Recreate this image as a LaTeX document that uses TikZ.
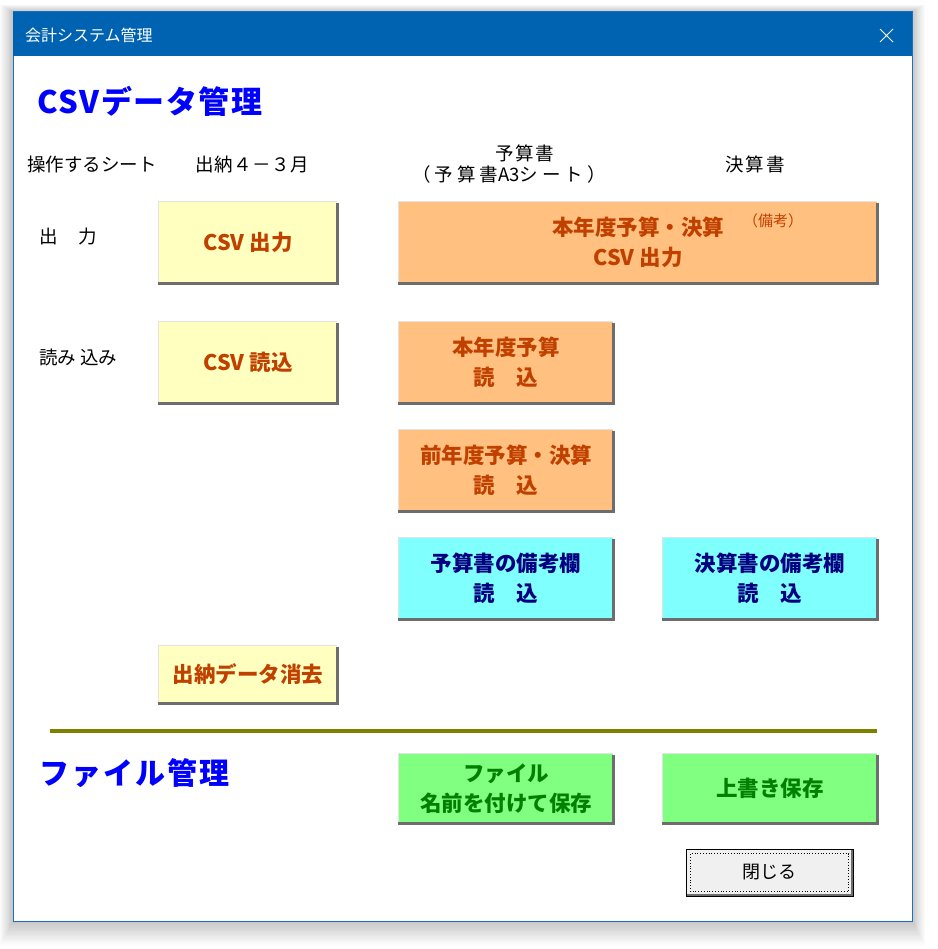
\documentclass[tikz,border=0pt]{standalone}
\usepackage{fontspec}
\setmainfont{Noto Sans CJK JP}
\newfontfamily\jpfont{Noto Sans CJK JP}
\definecolor{titleblue}{RGB}{0,99,177}
\definecolor{winborder}{RGB}{30,111,191}
\definecolor{headblue}{RGB}{0,0,255}
\definecolor{btnyellow}{RGB}{255,255,192}
\definecolor{btnorange}{RGB}{255,192,128}
\definecolor{btncyan}{RGB}{128,255,255}
\definecolor{btngreen}{RGB}{128,255,128}
\definecolor{txtorange}{RGB}{192,64,0}
\definecolor{txtnavy}{RGB}{0,0,128}
\definecolor{txtgreen}{RGB}{0,128,0}
\definecolor{olive}{RGB}{128,128,0}
\definecolor{bevdark}{RGB}{109,109,109}
\definecolor{bevlight}{RGB}{227,227,227}
\definecolor{closefill}{RGB}{240,240,240}
\newcommand\mybtn[8]{%
  \node[btnbase, fill=#6, text=#7, minimum width={#4-#2}, minimum height={#5-#3}] (#1) at ({(#2+#4)/2},{(#3+#5)/2}) {#8};
  \draw[bevellight] (#1.south west) |- (#1.north east);
  \draw[beveldark] ([xshift=-1pt]#1.south west) -| ([yshift=-1pt]#1.north east);
}
\newcommand\mygap{\hspace{4pt}}
\begin{document}
\begin{tikzpicture}[x=1pt,y=-1pt,
  btnbase/.style={draw=none, inner sep=0pt, align=center, font=\bfseries\fontsize{21.5}{29.5}\selectfont},
  bevellight/.style={draw=bevlight, line width=1.2pt},
  beveldark/.style={draw=bevdark, line width=2.6pt},
  lbl/.style={inner sep=0pt, font=\fontsize{18.5}{21}\selectfont, text=black, align=center},
  heading/.style={inner sep=0pt, font=\bfseries\fontsize{31}{34}\selectfont\addfontfeature{LetterSpace=5}, text=headblue}]
\useasboundingbox (0,0) rectangle (937,949);
\fill[white] (0,0) rectangle (937,949);
% window shadow
\foreach \i in {1,...,14}{
  \fill[black, opacity=0.014] ({13-0.9*\i},{12-0.5*\i}) rectangle ({912+0.9*\i},{921+1.7*\i});
}
% window
\draw[winborder, fill=white, line width=1pt] (13,12) rectangle (912,921);
\fill[titleblue] (13,12) rectangle (912,56);
\node[anchor=west, inner sep=0pt, text=white, font=\fontsize{16}{18}\selectfont] (title) at (25,35) {会計システム管理};
\draw[white, line width=1pt] (880,29) -- (893,42) (880,42) -- (893,29);

% headings
\node[heading, anchor=west] (csvh) at (37,101) {CSVデータ管理};
\node[heading, anchor=west, font=\bfseries\fontsize{30}{34}\selectfont\addfontfeature{LetterSpace=7}] (fileh) at (39,773) {ファイル管理};

% labels
\node[lbl, anchor=west] (sheet) at (27,164) {操作するシート};
\node[lbl, anchor=west, font=\fontsize{18.5}{21}\selectfont\addfontfeature{LetterSpace=3}] (suitou) at (195,164) {出納４－３月};
\node[lbl, font=\fontsize{18.5}{21}\selectfont\addfontfeature{LetterSpace=8}] (yosan) at (525,153) {予算書};
\node[lbl] (yosanA3) at (509,174) {（\mygap 予\mygap 算\mygap 書A3シ\mygap ー\mygap ト\mygap ）};
\node[lbl, font=\fontsize{18.5}{21}\selectfont\addfontfeature{LetterSpace=10}] (kessan) at (755,164) {決算書};
\node[lbl, anchor=west, font=\fontsize{18.5}{21}\selectfont\addfontfeature{LetterSpace=5}] (outl) at (39,237) {出　力};
\node[lbl, anchor=west] (readl) at (39,357) {読み 込み};

% buttons
\mybtn{csvout}{159}{202}{337}{283}{btnyellow}{txtorange}{CSV 出力}
\mybtn{csvin}{159}{322}{337}{403}{btnyellow}{txtorange}{CSV 読込}
\mybtn{clear}{159}{646}{337}{703}{btnyellow}{txtorange}{出納データ消去}
\mybtn{yearout}{399}{202}{877}{283}{btnorange}{txtorange}{本年度予算・決算\\CSV 出力}
\node[inner sep=0pt, text=txtorange, font=\fontsize{15}{16}\selectfont] (biko) at (773,221) {（備考）};
\mybtn{yearin}{399}{322}{613}{403}{btnorange}{txtorange}{本年度予算\\読　込}
\mybtn{previn}{399}{430}{613}{511}{btnorange}{txtorange}{前年度予算・決算\\読　込}
\mybtn{ybiko}{399}{538}{613}{619}{btncyan}{txtnavy}{予算書の備考欄\\読　込}
\mybtn{kbiko}{663}{538}{877}{619}{btncyan}{txtnavy}{決算書の備考欄\\読　込}
\mybtn{saveas}{399}{754}{613}{823}{btngreen}{txtgreen}{ファイル\\名前を付けて保存}
\mybtn{save}{663}{754}{877}{823}{btngreen}{txtgreen}{上書き保存}

% separator
\draw[olive, line width=4pt] (50,731) -- (877,731);

% close button
\node[draw=black, line width=1pt, fill=closefill, minimum width=167pt, minimum height=47pt, inner sep=0pt,
  font=\fontsize{18}{20}\selectfont] (close) at (769.5,872.5) {閉じる};
\draw[bevdark, line width=2pt] ([xshift=1.5pt,yshift=1.5pt]close.south west) -- ([xshift=-1.5pt,yshift=1.5pt]close.south east) -- ([xshift=-1.5pt,yshift=-1.5pt]close.north east);
\draw[black, dotted, line width=0.8pt] ([xshift=5pt,yshift=5pt]close.south west) rectangle ([xshift=-5pt,yshift=-5pt]close.north east);
\end{tikzpicture}
\end{document}
